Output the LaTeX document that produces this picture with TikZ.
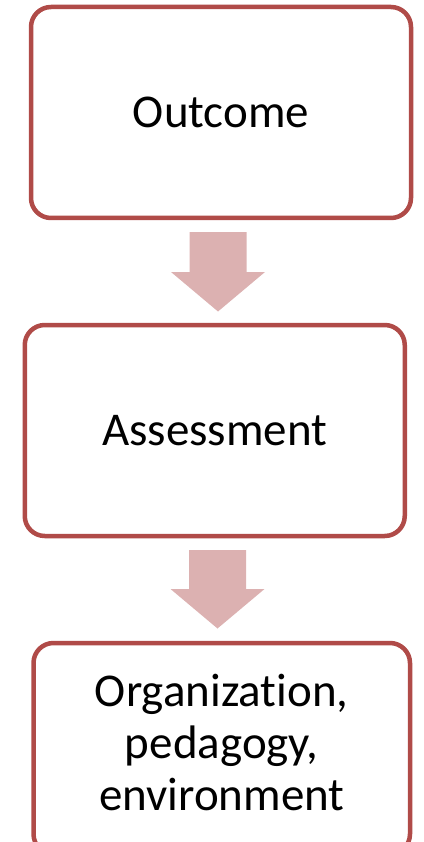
\documentclass[tikz,border=0pt]{standalone}
\usepackage{fontspec}
\setmainfont[Ligatures={NoCommon,NoRare}]{Carlito}
\usetikzlibrary{positioning}

\definecolor{boxred}{RGB}{176,75,72}
\definecolor{arrowpink}{RGB}{220,177,177}

\tikzset{
  stage/.style={draw=boxred, line width=4.5pt, rounded corners=20pt,
    fill=white, minimum width=380pt, minimum height=211pt, align=center,
    font=\fontsize{47}{52}\selectfont},
  blockarrow/.style={fill=arrowpink}
}

\begin{document}
\begin{tikzpicture}[x=1pt,y=-1pt]
        % Page frame
        \useasboundingbox (0,0) rectangle (423,842);
        \clip (0,0) rectangle (423,842);

        % Stages
        \node[stage] (outcome) at (221,112.5) {Outcome};
        \node[stage] (assess) at (214.75,430.5) {Assessment};
        \node[stage, minimum width=376.5pt, text depth=12pt] (org) at (221.75,748.5)
          {Organization,\\pedagogy,\\environment};

        % Block arrows between stages
        \coordinate (arr1) at (218,232);
        \coordinate (arr2) at (217.5,550);
        \foreach \a/\len in {arr1/40,arr2/39} {
          \fill[blockarrow] (\a) ++(-28.5,0) -- ++(57,0) -- ++(0,\len)
            -- ++(18.5,0) -- ++(-47,39.5) -- ++(-47,-39.5) -- ++(18.5,0) -- cycle;
        }
\end{tikzpicture}
\end{document}
